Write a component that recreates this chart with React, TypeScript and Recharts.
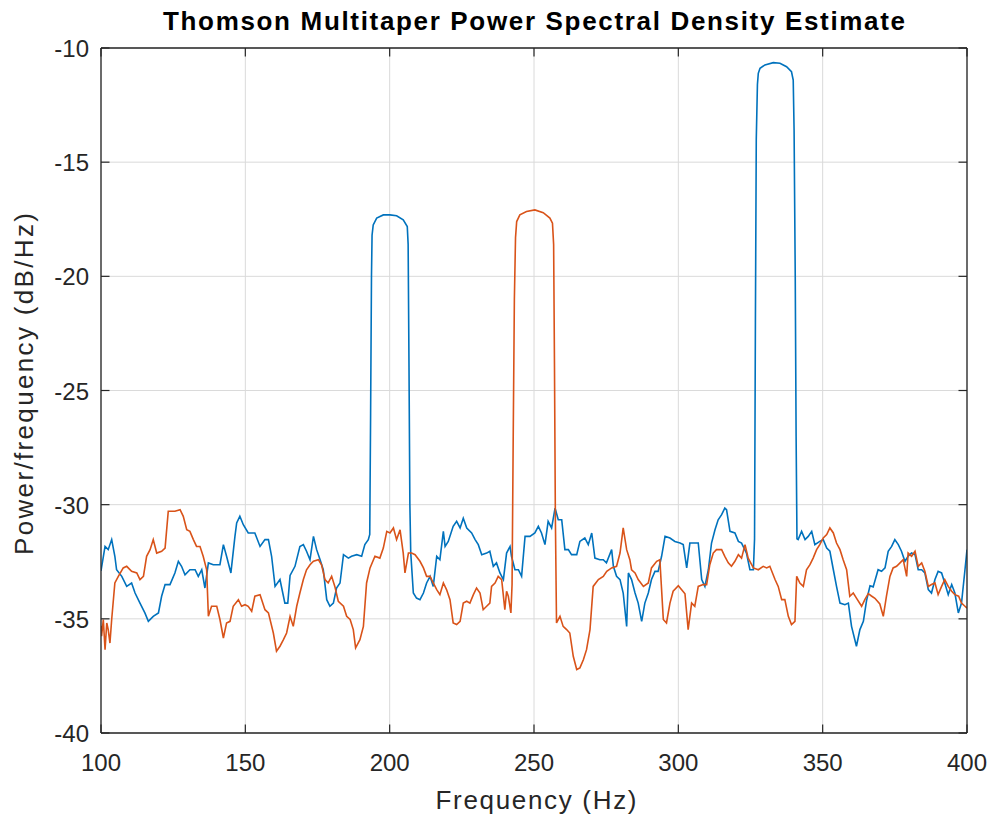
import React from "react";
import { LineChart, Line, XAxis, YAxis, CartesianGrid } from "recharts";

const TITLE = "Thomson Multitaper Power Spectral Density Estimate";
const X_LABEL = "Frequency (Hz)";
const Y_LABEL = "Power/frequency (dB/Hz)";

const FREQ_TICKS = [100, 150, 200, 250, 300, 350, 400];
const DB_TICKS = [-40, -35, -30, -25, -20, -15, -10];

const blueFreq = [
  100.0, 101.4, 102.5, 103.7, 104.8, 105.4, 107.2, 108.9, 110.6, 111.8, 113.5, 115.2, 116.4, 118.1, 119.9,
  121.0, 122.2, 123.9, 125.6, 126.8, 127.9, 129.1, 130.8, 132.6, 133.7, 134.9, 136.0, 137.2, 138.9, 141.2,
  142.4, 143.5, 145.0, 146.4, 147.0, 148.1, 149.3, 151.0, 153.3, 155.1, 156.8, 158.0, 159.1, 160.3, 162.0,
  163.7, 164.7, 165.5, 167.2, 168.9, 170.1, 171.2, 172.4, 173.6, 174.7, 175.9, 177.0, 178.2, 179.3, 180.5,
  181.6, 182.8, 184.0, 185.7, 186.8, 188.6, 190.3, 191.4, 192.6, 193.1, 193.4, 193.7, 193.9, 194.3, 195.5,
  197.8, 200.1, 202.4, 204.7, 206.1, 206.4, 206.7, 207.0, 207.3, 208.2, 209.3, 210.5, 211.7, 212.8, 214.0,
  215.1, 216.3, 217.4, 218.6, 219.2, 220.3, 222.0, 223.2, 224.4, 225.5, 226.7, 228.4, 229.6, 230.7, 231.9,
  233.6, 234.7, 235.9, 237.0, 238.2, 239.4, 240.5, 241.7, 242.2, 243.4, 244.6, 245.7, 246.9, 248.6, 250.3,
  251.5, 252.6, 253.8, 254.9, 256.1, 257.3, 258.4, 259.6, 260.7, 261.9, 263.0, 264.8, 265.9, 267.6, 268.8,
  270.0, 271.1, 272.8, 274.0, 275.1, 276.9, 277.5, 278.6, 279.8, 280.9, 282.1, 282.7, 283.8, 285.0, 286.1,
  287.3, 288.4, 289.6, 290.7, 291.9, 293.0, 294.2, 295.4, 297.1, 298.8, 300.6, 301.7, 302.9, 304.0, 305.7,
  306.9, 308.1, 309.2, 310.4, 311.5, 312.7, 313.8, 315.0, 316.1, 316.7, 317.9, 319.6, 320.8, 321.9, 323.6,
  324.8, 326.0, 326.4, 326.7, 327.0, 327.4, 327.7, 328.3, 330.0, 332.9, 335.2, 337.5, 339.2, 339.8, 340.1,
  340.5, 340.8, 341.1, 341.5, 342.7, 343.9, 345.0, 346.2, 347.3, 349.0, 350.2, 351.4, 352.5, 353.7, 354.8,
  356.0, 357.7, 358.9, 360.0, 361.7, 362.9, 364.1, 365.2, 366.4, 367.5, 369.2, 370.4, 371.6, 372.7, 373.9,
  375.0, 376.2, 377.3, 378.5, 379.6, 380.8, 382.0, 383.1, 384.3, 385.4, 386.6, 387.7, 388.9, 390.0, 391.2,
  392.3, 393.5, 394.7, 395.8, 397.0, 398.1, 399.3, 400.0,
];

const blueDb = [
  -32.9, -31.83, -31.97, -31.53, -32.26, -32.85, -33.14, -33.58, -33.43, -33.87, -34.31, -34.74, -35.11, -34.89, -34.74,
  -34.01, -33.5, -33.5, -32.99, -32.48, -32.7, -33.07, -32.85, -32.85, -33.14, -32.85, -33.65, -32.55, -32.63, -32.63,
  -31.75, -32.26, -32.99, -31.39, -30.8, -30.51, -30.88, -31.24, -31.24, -31.83, -31.53, -31.53, -32.26, -33.58, -33.28,
  -34.31, -34.31, -33.1, -32.7, -31.83, -31.75, -32.04, -32.41, -31.39, -31.97, -32.41, -32.85, -34.16, -34.45, -34.31,
  -33.65, -33.43, -32.19, -32.34, -32.26, -32.19, -32.26, -31.75, -31.53, -31.3, -26.0, -20.0, -18.2, -17.75, -17.45,
  -17.31, -17.31, -17.35, -17.53, -17.82, -18.6, -24.0, -30.0, -32.1, -33.87, -34.09, -34.16, -33.87, -33.43, -33.14,
  -33.58, -32.26, -32.41, -31.17, -31.83, -31.61, -30.95, -30.73, -31.02, -30.59, -31.02, -31.24, -31.53, -31.75, -32.19,
  -32.12, -32.04, -32.7, -32.55, -32.99, -33.28, -32.12, -31.83, -32.26, -32.85, -32.85, -33.14, -31.39, -31.39, -31.24,
  -30.95, -31.24, -31.75, -30.73, -31.02, -30.15, -30.66, -30.66, -31.97, -31.97, -32.19, -32.19, -31.61, -31.46, -31.75,
  -31.24, -32.34, -32.41, -32.41, -32.55, -31.97, -32.7, -33.14, -33.28, -33.87, -35.33, -32.99, -33.28, -33.87, -34.31,
  -35.11, -34.31, -33.87, -33.28, -32.92, -32.92, -32.26, -31.39, -31.46, -31.61, -31.68, -31.75, -32.77, -31.68, -31.68,
  -31.68, -33.28, -33.58, -32.85, -31.68, -31.1, -30.66, -30.44, -30.15, -30.22, -31.17, -31.24, -31.61, -31.68, -32.12,
  -32.85, -32.85, -31.5, -22.0, -14.0, -11.6, -11.11, -10.89, -10.74, -10.64, -10.67, -10.82, -11.04, -11.4, -13.6,
  -20.0, -27.0, -31.5, -31.53, -31.17, -31.53, -31.39, -31.17, -31.75, -31.61, -31.53, -31.9, -32.04, -32.85, -33.58,
  -34.31, -34.38, -34.31, -35.33, -36.2, -35.47, -35.11, -34.2, -33.55, -33.6, -32.85, -32.92, -32.77, -32.04, -31.83,
  -31.53, -31.75, -32.04, -32.48, -32.26, -32.12, -32.19, -32.85, -32.85, -32.99, -33.72, -33.87, -33.28, -32.92, -32.99,
  -33.43, -33.94, -33.5, -33.87, -34.74, -34.31, -32.85, -31.97,
];

const orangeFreq = [
  100.0, 100.2, 100.8, 101.4, 102.0, 102.5, 103.1, 103.7, 104.8, 106.0, 107.7, 108.9, 110.6, 112.4, 113.5,
  114.7, 115.8, 117.0, 118.1, 119.3, 121.0, 122.2, 123.3, 125.6, 127.4, 128.5, 129.7, 130.8, 132.0, 133.1,
  134.3, 135.4, 136.6, 137.2, 138.3, 140.1, 141.2, 142.4, 143.5, 144.7, 145.8, 147.6, 148.7, 149.9, 151.0,
  152.2, 153.3, 155.1, 156.8, 158.0, 159.7, 160.8, 162.0, 163.2, 164.3, 165.5, 166.6, 167.8, 168.9, 170.1,
  171.2, 172.4, 173.6, 175.3, 176.4, 177.6, 178.7, 179.9, 181.0, 182.2, 184.0, 185.1, 186.3, 187.4, 188.2,
  189.7, 190.9, 192.0, 193.2, 194.9, 196.6, 197.8, 199.0, 200.1, 201.3, 202.4, 203.6, 204.7, 205.3, 206.5,
  207.6, 208.8, 210.5, 211.7, 212.8, 214.0, 215.1, 216.3, 217.4, 218.6, 219.7, 220.9, 222.0, 223.2, 224.4,
  225.5, 226.7, 227.8, 229.0, 230.1, 231.3, 232.4, 233.6, 234.7, 235.3, 236.5, 237.6, 238.8, 239.9, 240.5,
  241.1, 242.0, 242.4, 242.8, 243.2, 243.6, 244.0, 245.1, 247.4, 250.3, 253.2, 255.5, 256.4, 256.8, 257.1,
  257.4, 257.8, 259.0, 260.1, 261.3, 262.4, 263.6, 264.8, 265.9, 267.1, 268.2, 269.4, 270.5, 272.3, 274.0,
  275.2, 276.9, 278.6, 279.8, 280.9, 282.1, 283.2, 283.8, 285.0, 286.1, 287.9, 289.6, 290.7, 292.5, 293.6,
  294.8, 295.9, 297.1, 298.2, 300.0, 302.3, 303.4, 304.6, 305.7, 306.9, 308.6, 309.8, 310.9, 312.1, 313.2,
  315.0, 316.1, 317.3, 318.4, 319.6, 320.8, 321.9, 323.1, 324.2, 326.0, 327.7, 329.4, 330.6, 331.7, 333.5,
  334.6, 335.8, 336.9, 338.1, 339.2, 340.4, 341.0, 342.1, 343.3, 344.4, 345.6, 346.7, 347.9, 349.0, 350.2,
  351.4, 352.5, 353.7, 354.8, 356.0, 357.1, 358.3, 359.4, 360.6, 361.7, 363.5, 364.6, 365.8, 366.9, 368.1,
  369.8, 371.0, 372.1, 373.3, 374.4, 375.6, 376.8, 377.9, 379.1, 379.6, 380.8, 382.0, 383.1, 384.3, 385.4,
  386.6, 387.7, 388.9, 390.0, 391.2, 392.3, 393.5, 394.7, 395.8, 397.1, 398.1, 399.3, 400.0,
];

const orangeDb = [
  -35.3, -35.76, -35.03, -36.35, -35.18, -35.47, -36.06, -35.03, -33.43, -33.14, -32.77, -32.7, -32.92, -32.99, -33.28,
  -33.14, -32.26, -31.97, -31.53, -32.12, -32.04, -31.9, -30.29, -30.29, -30.22, -30.51, -31.1, -31.17, -31.53, -31.83,
  -31.83, -32.26, -32.85, -34.89, -34.45, -34.45, -35.03, -35.84, -35.18, -35.11, -34.45, -34.16, -34.45, -34.38, -34.45,
  -34.67, -34.01, -33.94, -34.6, -34.74, -35.62, -36.42, -36.2, -35.91, -35.62, -34.89, -35.33, -34.45, -33.87, -33.28,
  -32.85, -32.63, -32.48, -32.41, -32.63, -33.28, -33.43, -33.14, -33.58, -34.23, -34.45, -34.89, -35.03, -35.47, -36.27,
  -35.91, -35.33, -33.43, -32.77, -32.26, -32.34, -31.9, -31.17, -31.24, -31.02, -31.53, -31.1, -32.12, -32.99, -32.12,
  -32.12, -32.19, -32.48, -32.77, -33.14, -33.14, -33.43, -33.72, -33.94, -33.43, -33.72, -34.16, -35.18, -35.25, -35.11,
  -34.31, -34.23, -34.31, -33.94, -33.65, -33.87, -34.6, -34.45, -34.31, -33.58, -33.43, -33.14, -33.28, -34.6, -33.79,
  -34.01, -34.74, -33.5, -27.0, -21.0, -18.3, -17.6, -17.31, -17.16, -17.09, -17.21, -17.45, -17.67, -18.6, -24.0,
  -30.5, -35.18, -34.89, -35.33, -35.47, -35.62, -36.64, -37.22, -37.15, -36.79, -36.35, -35.47, -33.58, -33.28, -33.14,
  -32.92, -32.77, -32.7, -32.12, -31.02, -31.97, -32.41, -32.85, -32.99, -33.28, -33.58, -33.43, -32.77, -32.48, -32.41,
  -35.03, -35.18, -34.31, -33.79, -33.55, -33.9, -35.47, -34.31, -34.45, -33.58, -33.5, -33.5, -32.63, -32.12, -31.97,
  -31.97, -32.26, -32.55, -32.7, -32.48, -32.19, -32.34, -31.75, -32.34, -32.77, -32.85, -32.7, -32.77, -32.7, -33.28,
  -33.58, -34.16, -34.16, -34.89, -35.25, -35.11, -33.14, -33.43, -33.58, -32.85, -32.63, -32.34, -31.97, -31.75, -31.46,
  -31.31, -31.02, -31.24, -31.68, -31.97, -32.41, -32.85, -34.01, -33.87, -34.09, -34.45, -34.16, -33.9, -34.0, -34.1,
  -34.35, -34.89, -34.01, -33.14, -32.77, -32.7, -32.55, -32.41, -33.14, -32.12, -32.26, -32.04, -32.7, -32.55, -32.92,
  -33.58, -33.5, -33.43, -33.94, -33.58, -33.28, -33.58, -33.79, -33.94, -34.01, -34.31, -34.45, -34.53,
];

const blueData = blueFreq.map((f, i) => ({ f, v: blueDb[i] }));
const orangeData = orangeFreq.map((f, i) => ({ f, v: orangeDb[i] }));

const FONT = "'Liberation Sans', Arial, Helvetica, sans-serif";
const AX = "#262626";
const TICK_LEN = 8.5;

const BottomTick = (props: any) => {
  const { x, y, payload } = props;
  return (
    <g>
      <line x1={x} y1={y} x2={x} y2={y - TICK_LEN} stroke={AX} strokeWidth={1.2} />
      <text x={x} y={y + 38} textAnchor="middle" fontSize={24} fill={AX} fontFamily={FONT}>
        {payload.value}
      </text>
    </g>
  );
};

const LeftTick = (props: any) => {
  const { x, y, payload } = props;
  return (
    <g>
      <line x1={x} y1={y} x2={x + TICK_LEN} y2={y} stroke={AX} strokeWidth={1.2} />
      <text x={x - 12} y={y + 9} textAnchor="end" fontSize={24} fill={AX} fontFamily={FONT}>
        {payload.value}
      </text>
    </g>
  );
};

const TopTick = (props: any) => {
  const { x, y } = props;
  return <line x1={x} y1={y} x2={x} y2={y + TICK_LEN} stroke={AX} strokeWidth={1.2} />;
};

const RightTick = (props: any) => {
  const { x, y } = props;
  return <line x1={x} y1={y} x2={x - TICK_LEN} y2={y} stroke={AX} strokeWidth={1.2} />;
};

export default function App() {
  return (
    <div style={{ position: "absolute", left: 0, top: 0, width: 993, height: 819, background: "#fff" }}>
      <LineChart width={993} height={819} margin={{ top: 38, right: 16, left: 41, bottom: 46 }}>
        <CartesianGrid stroke="#dadada" strokeWidth={1} />
        <XAxis
          type="number"
          dataKey="f"
          domain={[100, 400]}
          allowDataOverflow
          ticks={FREQ_TICKS}
          interval={0}
          height={40}
          tickSize={0}
          tickMargin={0}
          tickLine={false}
          axisLine={{ stroke: AX, strokeWidth: 1.3 }}
          tick={<BottomTick />}
        />
        <XAxis
          xAxisId="top"
          orientation="top"
          type="number"
          dataKey="f"
          domain={[100, 400]}
          allowDataOverflow
          ticks={FREQ_TICKS}
          interval={0}
          height={10}
          tickSize={0}
          tickMargin={0}
          tickLine={false}
          axisLine={{ stroke: AX, strokeWidth: 1.3 }}
          tick={<TopTick />}
        />
        <YAxis
          type="number"
          domain={[-40, -10]}
          allowDataOverflow
          ticks={DB_TICKS}
          interval={0}
          width={60}
          tickSize={0}
          tickMargin={0}
          tickLine={false}
          axisLine={{ stroke: AX, strokeWidth: 1.3 }}
          tick={<LeftTick />}
        />
        <YAxis
          yAxisId="right"
          orientation="right"
          type="number"
          domain={[-40, -10]}
          allowDataOverflow
          ticks={DB_TICKS}
          interval={0}
          width={10}
          tickSize={0}
          tickMargin={0}
          tickLine={false}
          axisLine={{ stroke: AX, strokeWidth: 1.3 }}
          tick={<RightTick />}
        />
        <Line
          data={blueData}
          dataKey="v"
          type="linear"
          stroke="#0072BD"
          strokeWidth={1.6}
          dot={false}
          activeDot={false}
          isAnimationActive={false}
        />
        <Line
          data={orangeData}
          dataKey="v"
          type="linear"
          stroke="#D95319"
          strokeWidth={1.6}
          dot={false}
          activeDot={false}
          isAnimationActive={false}
        />
      </LineChart>
      <svg
        width={993}
        height={819}
        style={{ position: "absolute", left: 0, top: 0, pointerEvents: "none" }}
      >
        <text
          x={534}
          y={30}
          textAnchor="middle"
          fontSize={26}
          fontWeight="bold"
          fill="#000"
          fontFamily={FONT}
          textLength={742}
          lengthAdjust="spacing"
        >
          {TITLE}
        </text>
        <text
          x={536}
          y={809}
          textAnchor="middle"
          fontSize={26}
          fill={AX}
          fontFamily={FONT}
          textLength={201}
          lengthAdjust="spacing"
        >
          {X_LABEL}
        </text>
        <text
          x={33}
          y={384}
          textAnchor="middle"
          fontSize={26}
          fill={AX}
          fontFamily={FONT}
          transform="rotate(-90 33 384)"
          textLength={342}
          lengthAdjust="spacing"
        >
          {Y_LABEL}
        </text>
      </svg>
    </div>
  );
}
